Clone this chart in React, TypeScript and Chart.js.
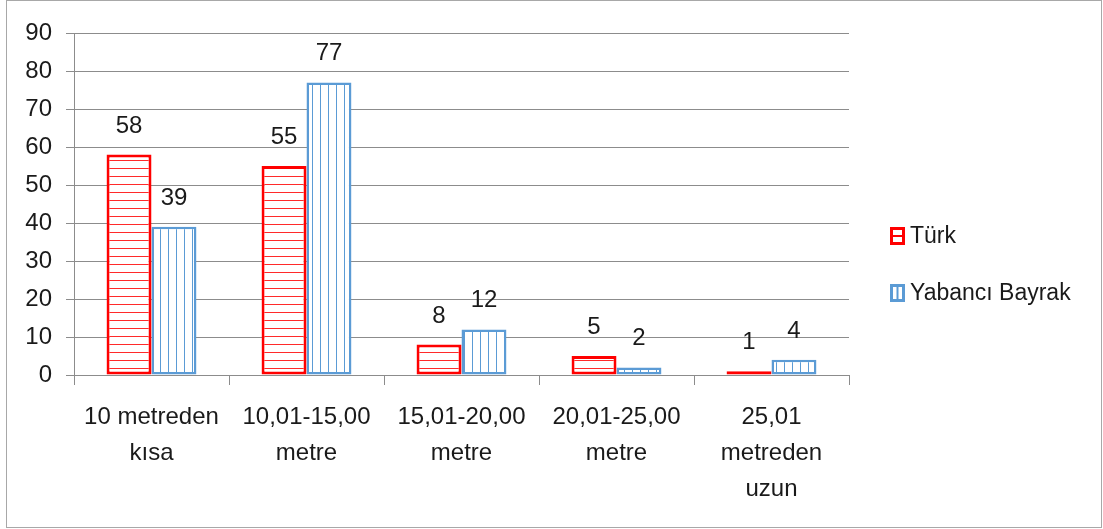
import React, { useEffect, useRef } from "react";
import { Chart, registerables } from "chart.js";

Chart.register(...registerables);

const categories: string[][] = [
  ["10 metreden", "kısa"],
  ["10,01-15,00", "metre"],
  ["15,01-20,00", "metre"],
  ["20,01-25,00", "metre"],
  ["25,01", "metreden", "uzun"],
];
const seriesNames = ["Türk", "Yabancı Bayrak"];
const turkValues = [58, 55, 8, 5, 1];
const yabanciValues = [39, 77, 12, 2, 4];
const yTicks = { min: 0, max: 90, step: 10 };

const FONT = "'Liberation Sans', Arial, sans-serif";
const RED = "#ff0000";
const BLUE = "#5b9bd5";
const GRID = "#8c8c8c";
const TEXT = "#1a1a1a";

function makePattern(ctx: CanvasRenderingContext2D, color: string, horizontal: boolean) {
  const c = document.createElement("canvas");
  c.width = 8;
  c.height = 8;
  const p = c.getContext("2d")!;
  p.fillStyle = "#ffffff";
  p.fillRect(0, 0, 8, 8);
  p.fillStyle = color;
  if (horizontal) p.fillRect(0, 0, 8, 1);
  else p.fillRect(0, 0, 1, 8);
  return ctx.createPattern(c, "repeat")!;
}

export default function App() {
  const ref = useRef<HTMLCanvasElement | null>(null);

  useEffect(() => {
    document.body.style.margin = "0";
    const canvas = ref.current!;
    const ctx = canvas.getContext("2d")!;
    const redPat = makePattern(ctx, "#ff2a2a", true);
    const bluePat = makePattern(ctx, BLUE, false);

    const framePlugin = {
      id: "frame",
      afterDraw(chart: any) {
        const c = chart.ctx;
        c.save();
        c.strokeStyle = "#a8a8a8";
        c.lineWidth = 1;
        c.strokeRect(6.5, 0.5, 1095, 527);
        c.restore();
      },
    };

    const labelPlugin = {
      id: "valueLabels",
      afterDatasetsDraw(chart: any) {
        const c = chart.ctx;
        c.save();
        c.font = `24px ${FONT}`;
        c.fillStyle = TEXT;
        c.textAlign = "center";
        c.textBaseline = "alphabetic";
        chart.data.datasets.forEach((ds: any, di: number) => {
          const meta = chart.getDatasetMeta(di);
          meta.data.forEach((bar: any, i: number) => {
            c.fillText(String(ds.data[i]), bar.x, bar.y - 22);
          });
        });
        c.restore();
      },
    };

    const legendPlugin = {
      id: "customLegend",
      afterDraw(chart: any) {
        const c = chart.ctx;
        c.save();
        const items = [
          { y: 236, stroke: RED },
          { y: 293, stroke: BLUE },
        ];
        items.forEach((it, i) => {
          const bx = 890, bw = 15, bh = 18;
          const by = it.y - bh / 2;
          c.fillStyle = "#fff";
          c.fillRect(bx, by, bw, bh);
          c.strokeStyle = it.stroke;
          c.lineWidth = 3;
          c.strokeRect(bx + 1.5, by + 1.5, bw - 3, bh - 3);
          c.lineWidth = 2;
          c.beginPath();
          if (i === 0) {
            c.moveTo(bx + 1, it.y);
            c.lineTo(bx + bw - 1, it.y);
          } else {
            c.moveTo(bx + bw / 2, by + 1);
            c.lineTo(bx + bw / 2, by + bh - 1);
          }
          c.stroke();
          c.font = `23px ${FONT}`;
          c.fillStyle = TEXT;
          c.textAlign = "left";
          c.textBaseline = "middle";
          c.fillText(chart.data.datasets[i].label, 910, it.y + 1);
        });
        c.restore();
      },
    };

    const chart = new Chart(canvas, {
      type: "bar",
      data: {
        labels: categories as any,
        datasets: [
          {
            label: seriesNames[0],
            data: turkValues,
            backgroundColor: redPat as any,
            borderColor: RED,
            borderWidth: 3,
            borderSkipped: false,
            categoryPercentage: 0.58,
            barPercentage: 1,
          },
          {
            label: seriesNames[1],
            data: yabanciValues,
            backgroundColor: bluePat as any,
            borderColor: BLUE,
            borderWidth: 2.5,
            borderSkipped: false,
            categoryPercentage: 0.58,
            barPercentage: 1,
          },
        ],
      },
      options: {
        responsive: false,
        animation: false,
        layout: { padding: { left: 0, top: 33, right: 254, bottom: 0 } },
        plugins: {
          legend: { display: false },
          tooltip: { enabled: false },
        },
        scales: {
          x: {
            offset: true,
            grid: {
              display: true,
              drawOnChartArea: false,
              drawTicks: true,
              tickLength: 10,
              offset: true,
              color: GRID,
            },
            border: { display: true, color: GRID },
            ticks: {
              color: TEXT,
              font: { family: FONT, size: 24, lineHeight: 1.5 },
              padding: 14,
              maxRotation: 0,
              autoSkip: false,
            },
            afterFit(scale: any) {
              scale.height = 154;
            },
          },
          y: {
            min: yTicks.min,
            max: yTicks.max,
            ticks: {
              stepSize: yTicks.step,
              color: TEXT,
              font: { family: FONT, size: 24 },
              padding: 14,
            },
            grid: { color: GRID, tickLength: 8 },
            border: { display: true, color: GRID },
            afterFit(scale: any) {
              scale.width = 74;
            },
          },
        },
      },
      plugins: [labelPlugin, legendPlugin, framePlugin],
    });

    return () => chart.destroy();
  }, []);

  return (
    <div style={{ width: 1103, height: 529 }}>
      <canvas ref={ref} width={1103} height={529} style={{ display: "block" }} />
    </div>
  );
}
